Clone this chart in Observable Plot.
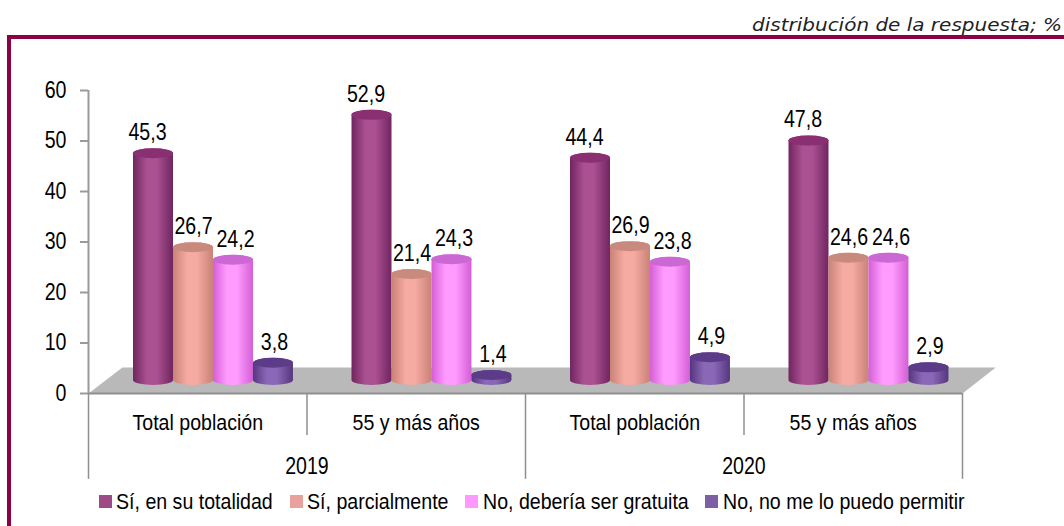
<!DOCTYPE html>
<html lang="es">
<head>
<meta charset="utf-8">
<script src="https://cdn.jsdelivr.net/npm/d3@7"></script>
<script src="https://cdn.jsdelivr.net/npm/@observablehq/plot@0.6"></script>
<style>
  html, body { margin: 0; padding: 0; background: #fff; }
  #page { position: relative; width: 1064px; height: 526px; overflow: hidden; font-family: "Liberation Sans", sans-serif; color: #000; }
  #subtitle { position: absolute; right: 2px; top: 14px; font: italic 18.5px "DejaVu Sans", sans-serif; white-space: nowrap; color: #222; transform: scaleX(1.08); transform-origin: right center; }
  #frame { position: absolute; left: 7px; top: 35px; right: -10px; bottom: -10px; border-top: 4px solid #8c0048; border-left: 4px solid #8c0048; }
  #chart { position: absolute; left: 0; top: 0; }
  .swatch { position: absolute; top: 495px; width: 13px; height: 13px; }
  .entry { position: absolute; top: 489px; font-size: 22px; line-height: 26px; white-space: nowrap; transform: scaleX(0.89); transform-origin: left center; }
</style>
</head>
<body>
<div id="page">
  <div id="subtitle">distribución de la respuesta; %</div>
  <div id="frame"></div>
  <div id="chart"></div>
</div>
<script>
const years = ["2019", "2020"];
const groups = ["Total población", "55 y más años", "Total población", "55 y más años"];
const seriesNames = ["Sí, en su totalidad", "Sí, parcialmente", "No, debería ser gratuita", "No, no me lo puedo permitir"];
const totalidad = [45.3, 52.9, 44.4, 47.8];
const parcialmente = [26.7, 21.4, 26.9, 24.6];
const gratuita = [24.2, 24.3, 23.8, 24.6];
const noPermitir = [3.8, 1.4, 4.9, 2.9];
const seriesValues = [totalidad, parcialmente, gratuita, noPermitir];

// styles
const edge = ["#6f2560", "#c98276", "#d45ed6", "#56367f"];
const mid = ["#ab5091", "#f5aaa2", "#ff9bff", "#8a68b8"];
const cap = ["#8a2f72", "#c98a7e", "#cc68d4", "#5c3c88"];
const swatch = ["#9e4a86", "#e8a29b", "#ff99ff", "#7f5fa3"];
const legendX = [99, 290, 465, 705];
const legendGap = [17, 17, 18, 18];
const labelDx = [-6, 0, 2, 1];
const font = "Liberation Sans";

// layout in scale units
const step = 0.183, first = 0.2975;
const rowsOf = (i) => seriesValues[i].map((v, g) => ({
  group: g,
  value: v,
  label: v.toFixed(1).replace(".", ","),
  cx: g + first + i * step
}));

const floorX = [0, 4, 4.152, 0.155, 0];
const floorY = [0, 0, 5.15, 5.15, 0];
const floor = floorX.map((x, i) => ({x, y: floorY[i]}));

const gradients = () => {
  const ns = "http://www.w3.org/2000/svg";
  const defs = document.createElementNS(ns, "defs");
  edge.forEach((e, i) => {
    const g = document.createElementNS(ns, "linearGradient");
    g.setAttribute("id", "cyl" + i);
    [[0, e], [0.35, mid[i]], [0.6, mid[i]], [1, e]].forEach(([o, c]) => {
      const s = document.createElementNS(ns, "stop");
      s.setAttribute("offset", o);
      s.setAttribute("stop-color", c);
      g.appendChild(s);
    });
    defs.appendChild(g);
  });
  return defs;
};

const barMarks = seriesValues.flatMap((_, i) => {
  const rows = rowsOf(i);
  const x1 = (d) => d.cx - step / 2, x2 = (d) => d.cx + step / 2;
  return [
    Plot.rectY(rows, {x1, x2, y1: 0, y2: "value", dy: -11, insetTop: -5, insetBottom: -3, rx: 20, ry: 5, fill: `url(#cyl${i})`}),
    Plot.rect(rows, {x1, x2, y1: "value", y2: "value", dy: -11, insetTop: -5, insetBottom: -5, rx: 20, ry: 5, fill: cap[i]})
  ];
});

const labelMarks = seriesValues.map((_, i) =>
  Plot.text(rowsOf(i), {x: "cx", y: "value", text: "label", dy: -32, dx: labelDx[i], fontSize: 23, fontFamily: font, fill: "#000", className: "num"})
);

const plot = Plot.plot({
  width: 1064,
  height: 526,
  marginLeft: 88,
  marginRight: 102,
  marginTop: 90,
  marginBottom: 133,
  style: {background: "transparent", overflow: "visible"},
  x: {domain: [0, 4], axis: null},
  y: {domain: [0, 60]},
  marks: [
    gradients,
    Plot.line(floor, {x: "x", y: "y", fill: "#b9b9b9", stroke: "none"}),
    Plot.ruleY([0], {x1: 0, x2: 4, stroke: "#8f8f8f", strokeWidth: 2}),
    Plot.ruleX([0], {y1: 0, y2: 60, stroke: "#9a9a9a", strokeWidth: 2}),
    Plot.ruleX([1, 3], {y1: 0, y2: -8.3, stroke: "#8f8f8f", strokeWidth: 1.5}),
    Plot.ruleX([0, 2, 4], {y1: 0, y2: -17, stroke: "#8f8f8f", strokeWidth: 1.5}),
    Plot.axisY({ticks: d3.range(0, 61, 10), tickSize: 8, tickPadding: 14, stroke: "#9a9a9a", strokeWidth: 2, fill: "#000", fontSize: 23, fontFamily: font, label: null, className: "num"}),
    ...barMarks,
    ...labelMarks,
    Plot.text(groups, {x: (d, i) => i + 0.5, y: -5.9, text: (d) => d, fontSize: 22, fontFamily: font, fill: "#000", className: "cat"}),
    Plot.text(years, {x: (d, i) => 2 * i + 1, y: -14.4, text: (d) => d, fontSize: 23, fontFamily: font, fill: "#000", className: "num"})
  ]
});
const chart = document.getElementById("chart");
chart.appendChild(plot);

// The reference uses a condensed sans: squeeze the real text to the same width.
const squeeze = (selector, factor) => {
  plot.querySelectorAll(selector).forEach((t) => {
    t.setAttribute("textLength", (t.getComputedTextLength() * factor).toFixed(1));
    t.setAttribute("lengthAdjust", "spacingAndGlyphs");
  });
};
squeeze(".num text", 0.85);
squeeze(".cat text", 0.89);

const page = document.getElementById("page");
seriesNames.forEach((name, i) => {
  const s = document.createElement("div");
  s.className = "swatch";
  s.style.left = legendX[i] + "px";
  s.style.background = swatch[i];
  const t = document.createElement("div");
  t.className = "entry";
  t.style.left = (legendX[i] + legendGap[i]) + "px";
  t.textContent = name;
  page.append(s, t);
});
</script>
</body>
</html>
